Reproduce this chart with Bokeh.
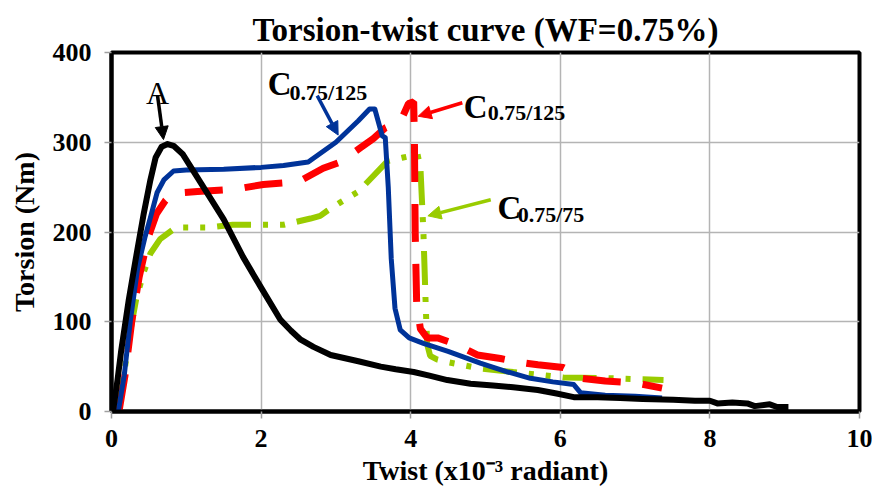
from bokeh.plotting import figure
from bokeh.models import Range1d, FixedTicker, Label, Arrow, NormalHead, ColumnDataSource
from bokeh.embed import file_html
from bokeh.resources import INLINE

# ---------------- data ----------------
# Curve A (black)
a_twist = [0.02, 0.08, 0.13, 0.23, 0.32, 0.43, 0.52, 0.59, 0.67, 0.75, 0.83, 0.95, 1.2, 1.5, 1.76, 2.0,
           2.26, 2.4, 2.53, 2.7, 2.93, 3.3, 3.6, 3.8, 4.04, 4.25, 4.49, 4.8, 5.1, 5.37, 5.7, 5.95, 6.18,
           6.5, 6.8, 7.1, 7.51, 7.8, 8.0, 8.1, 8.3, 8.5, 8.6, 8.8, 8.9, 9.05]
a_torsion = [0, 35, 68, 124, 168, 220, 258, 283, 295, 298, 296, 287, 254, 214, 172, 138,
             102, 90, 80, 72, 63, 56, 50, 47, 44, 40, 35, 31, 29, 27, 24, 20, 16,
             16, 15, 14, 13, 12, 12, 9, 10, 9, 6, 8, 5, 5]

# C0.75/125 (blue)
b_twist = [0.09, 0.17, 0.25, 0.35, 0.45, 0.52, 0.61, 0.7, 0.83, 1.0, 1.5, 2.0, 2.3, 2.63, 3.0, 3.3,
           3.45, 3.52, 3.62, 3.66, 3.7, 3.74, 3.79, 3.86, 3.98, 4.17, 4.5, 4.93, 5.3, 5.6, 5.9, 6.18,
           6.27, 6.6, 7.0, 7.36]
b_torsion = [0, 40, 100, 160, 195, 216, 244, 258, 268, 269, 270, 272, 274, 278, 300, 324,
             337, 337, 307, 305, 250, 170, 115, 91, 82, 76, 67, 54, 44, 37, 33, 30,
             21, 18, 17, 15]

# C0.75/125 (red)
r_twist = [0.1, 0.18, 0.27, 0.37, 0.49, 0.6, 0.72, 0.82, 1.15, 1.68, 2.03, 2.5, 2.83, 3.06, 3.33, 3.5,
           3.66, 3.82, 3.9, 3.97, 4.04, 4.05, 4.06, 4.08, 4.13, 4.22, 4.36, 4.6, 4.89, 5.2, 5.45, 5.7,
           6.04, 6.2, 6.27, 6.6, 7.0, 7.36]
r_torsion = [0, 40, 100, 150, 194, 220, 235, 243, 245, 248, 253, 256, 271, 278, 294, 304,
             316, 322, 330, 343, 345, 300, 200, 120, 92, 82, 82, 75, 63, 59, 55, 52,
             49, 42, 37, 34, 32, 26]

# C0.75/75 (green)
g_twist = [0.08, 0.15, 0.23, 0.33, 0.43, 0.52, 0.65, 0.86, 1.15, 1.3, 1.62, 2.13, 2.3, 2.66, 2.79, 2.89,
           3.06, 3.3, 3.69, 3.9, 4.02, 4.09, 4.13, 4.17, 4.2, 4.22, 4.26, 4.35, 4.49, 4.93, 5.37, 6.04,
           6.71, 7.38]
g_torsion = [0, 30, 80, 125, 155, 176, 192, 205, 205, 205, 208, 208, 208, 215, 218, 224,
             233, 245, 279, 283, 285, 287, 272, 200, 120, 75, 62, 58, 55, 48, 44, 38,
             37, 35]

x_ticks = [0, 2, 4, 6, 8, 10]
y_ticks = [0, 100, 200, 300, 400]

title_text = "Torsion-twist curve (WF=0.75%)"
x_label = "Twist (x10\u207b\u00b3 radiant)"
y_label = "Torsion (Nm)"

# ---------------- figure ----------------
FONT = "Liberation Serif"
p = figure(width=872, height=491, x_range=Range1d(0, 10), y_range=Range1d(0, 400),
           output_backend="svg", toolbar_location=None,
           min_border_left=111, min_border_right=13, min_border_top=52, min_border_bottom=80)

p.title.text = title_text
p.title.align = "center"
p.title.text_font = FONT
p.title.text_font_size = "33px"
p.title.text_font_style = "bold"
p.title.text_color = "black"
p.title.standoff = 10

p.outline_line_color = "black"
p.outline_line_width = 4
p.outline_line_alpha = 1

for ax, ticks in ((p.xaxis, x_ticks), (p.yaxis, y_ticks)):
    ax.ticker = FixedTicker(ticks=ticks)
    ax.axis_line_color = "black"
    ax.axis_line_width = 4
    ax.major_tick_line_color = "#a0a0a0"
    ax.major_tick_line_width = 1.5
    ax.major_tick_out = 7
    ax.major_tick_in = 0
    ax.minor_tick_line_color = None
    ax.major_label_text_font = FONT
    ax.major_label_text_font_style = "bold"
    ax.major_label_text_font_size = "26px"
    ax.major_label_text_color = "black"
    ax.axis_label_text_font = FONT
    ax.axis_label_text_font_style = "bold"
    ax.axis_label_text_color = "black"

p.xaxis.major_label_standoff = 11
p.yaxis.major_label_standoff = 13
p.xaxis.axis_label = x_label
p.yaxis.axis_label = y_label
p.xaxis.axis_label_text_font_size = "28px"
p.yaxis.axis_label_text_font_size = "28px"
p.xaxis.axis_label_standoff = 5
p.yaxis.axis_label_standoff = 10

p.xgrid.ticker = FixedTicker(ticks=x_ticks)
p.ygrid.ticker = FixedTicker(ticks=y_ticks)
p.grid.grid_line_color = "#b4b4b4"
p.grid.grid_line_width = 1.5

# ---------------- curves ----------------
src_a = ColumnDataSource(dict(x=a_twist, y=a_torsion))
src_b = ColumnDataSource(dict(x=b_twist, y=b_torsion))
src_r = ColumnDataSource(dict(x=r_twist, y=r_torsion))
src_g = ColumnDataSource(dict(x=g_twist, y=g_torsion))

p.line("x", "y", source=src_g, line_color="#99cc00", line_width=6, line_dash="34 12 5 12 5 12")
p.line("x", "y", source=src_r, line_color="#ff0000", line_width=7, line_dash="38 22")
p.line("x", "y", source=src_b, line_color="#003399", line_width=5, line_join="round")
p.line("x", "y", source=src_a, line_color="black", line_width=6, line_join="round")

# ---------------- annotations ----------------
def lab(x, y, text, size, color="black", style="bold", align="left"):
    p.add_layout(Label(x=x, y=y, text=text, text_font=FONT, text_font_size=size,
                       text_font_style=style, text_color=color, text_align=align,
                       text_baseline="alphabetic"))

def arrow(x0, y0, x1, y1, color):
    p.add_layout(Arrow(x_start=x0, y_start=y0, x_end=x1, y_end=y1, line_color=color, line_width=3.5,
                       end=NormalHead(size=13, fill_color=color, line_color=color)))

lab(0.46, 355, "A", "32px", style="normal")
arrow(0.615, 352, 0.695, 303, "black")

lab(2.09, 365, "C", "33px")
lab(2.38, 355, "0.75/125", "22px")
arrow(2.75, 352, 3.03, 308, "#003399")

lab(4.71, 339, "C", "33px")
lab(5.03, 333, "0.75/125", "22px")
arrow(4.69, 344, 4.10, 329, "#ff0000")

lab(5.16, 227, "C", "33px")
lab(5.43, 220, "0.75/75", "22px")
arrow(5.07, 236, 4.23, 218, "#99cc00")

open("out.html", "w").write(file_html(p, INLINE))
